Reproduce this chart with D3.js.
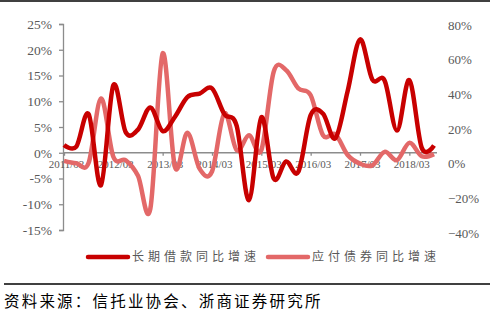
<!DOCTYPE html>
<html>
<head>
<meta charset="utf-8">
<script src="https://cdn.jsdelivr.net/npm/d3@7"></script>
<style>
  body { margin: 0; background: #fff; }
  svg { display: block; }
  .axis text { font-family: "Liberation Serif", "Times New Roman", serif; fill: #595959; }
  .legend text { font-family: "Noto Sans CJK SC", sans-serif; fill: #595959; }
</style>
</head>
<body>
<div id="chart"></div>
<script>
// quarterly data, 2011/03 - 2018/09
var quarters = [];
for (var y = 2011; y <= 2018; y++) {
    ['03', '06', '09', '12'].forEach(function (m) {
        if (y === 2018 && m === '12') return;
        quarters.push(y + '/' + m);
    });
}
var tickLabels = ['2011/03', '2012/03', '2013/03', '2014/03', '2015/03', '2016/03', '2017/03', '2018/03'];

// 长期借款同比增速 (left axis, %)
var loanGrowth = [1.5, 1.2, 7.5, -6.3, 13.1, 4.0, 4.5, 8.8,
                  4.2, 7.0, 10.8, 11.5, 12.5, 7.5, 5.2, -9.2,
                  6.9, -5.0, -1.7, -3.7, 7.3, 7.6, 2.8, 12.0,
                  22.0, 14.2, 14.0, 4.3, 14.1, 1.0, 1.4];
// 应付债券同比增速 (right axis, %)
var bondGrowth = [1.6, 0.2, 0.5, 37.6, 4.0, 2.0, -7.0, -26.0,
                  63.6, -2.0, 17.8, -3.0, -4.5, 29.0, 7.8, 16.4,
                  7.8, 53.0, 54.0, 43.4, 39.5, 16.4, 17.0, 5.0,
                  0.0, -1.0, 6.8, 2.0, 12.0, 4.3, 5.5];

var leftTicks = [-15, -10, -5, 0, 5, 10, 15, 20, 25];
var rightTicks = [-40, -20, 0, 20, 40, 60, 80];

var seriesNames = ['长期借款同比增速', '应付债券同比增速'];
var colors = ['#C80000', '#E36868'];
var source = '资料来源：信托业协会、浙商证券研究所';

var width = 490, height = 315;

var svg = d3.select('#chart').append('svg')
    .attr('width', width)
    .attr('height', height);

var x = d3.scalePoint().domain(quarters).range([64, 434]);
var yLeft = d3.scaleLinear().domain([-15, 25]).range([230, 24]);
var yRight = d3.scaleLinear().domain([-40, 80]).range([233, 25]);

// top rule
svg.append('line')
    .attr('x1', 0).attr('x2', width)
    .attr('y1', 1).attr('y2', 1)
    .attr('stroke', '#000').attr('stroke-width', 1.5);

// left axis
var gLeft = svg.append('g')
    .attr('class', 'axis')
    .attr('transform', 'translate(63,0)')
    .call(d3.axisLeft(yLeft).tickValues(leftTicks).tickSize(4).tickSizeOuter(4)
        .tickPadding(7)
        .tickFormat(function (d) { return d + '%'; }));
gLeft.selectAll('text').style('font-size', '13.5px');
gLeft.selectAll('path, line').attr('stroke', '#8c8c8c').attr('stroke-width', 1.3);

// right axis: labels only
var gRight = svg.append('g')
    .attr('class', 'axis')
    .attr('transform', 'translate(448,0)');
gRight.selectAll('text').data(rightTicks).enter().append('text')
    .attr('x', 0)
    .attr('y', function (d) { return yRight(d); })
    .attr('dy', '0.35em')
    .style('font-size', '13px')
    .text(function (d) { return (d < 0 ? '\u2212' + (-d) : d) + '%'; });

// x axis on left zero
var gX = svg.append('g')
    .attr('class', 'axis')
    .attr('transform', 'translate(0,' + yLeft(0) + ')')
    .call(d3.axisBottom(x).tickValues(tickLabels).tickSize(3).tickSizeOuter(0).tickPadding(4));
gX.select('.domain').remove();
gX.insert('line', ':first-child')
    .attr('x1', 63).attr('x2', 437)
    .attr('stroke', '#8c8c8c').attr('stroke-width', 1.3);
gX.selectAll('line').attr('stroke', '#8c8c8c').attr('stroke-width', 1.3);
gX.selectAll('text').style('font-size', '11px').attr('dx', 2);

// lines
var lineLeft = d3.line()
    .x(function (d, i) { return x(quarters[i]); })
    .y(function (d) { return yLeft(d); })
    .curve(d3.curveCatmullRom.alpha(0));
var lineRight = d3.line()
    .x(function (d, i) { return x(quarters[i]); })
    .y(function (d) { return yRight(d); })
    .curve(d3.curveCatmullRom.alpha(0));

svg.append('path')
    .datum(bondGrowth)
    .attr('d', lineRight)
    .attr('fill', 'none')
    .attr('stroke', colors[1])
    .attr('stroke-width', 4.5)
    .attr('stroke-linejoin', 'round');

svg.append('path')
    .datum(loanGrowth)
    .attr('d', lineLeft)
    .attr('fill', 'none')
    .attr('stroke', colors[0])
    .attr('stroke-width', 4.5)
    .attr('stroke-linejoin', 'round');

// legend
var legend = svg.append('g').attr('class', 'legend');
var legendX = [88, 268];
seriesNames.forEach(function (name, i) {
    legend.append('line')
        .attr('x1', legendX[i]).attr('x2', legendX[i] + 40)
        .attr('y1', 257).attr('y2', 257)
        .attr('stroke', colors[i])
        .attr('stroke-width', 4.5)
        .attr('stroke-linecap', 'round');
    legend.append('text')
        .attr('x', legendX[i] + 44)
        .attr('y', 257)
        .attr('dy', '0.36em')
        .style('font-size', '12px')
        .style('letter-spacing', '4px')
        .text(name);
});

// bottom rule + source
svg.append('line')
    .attr('x1', 4).attr('x2', width)
    .attr('y1', 284).attr('y2', 284)
    .attr('stroke', '#000').attr('stroke-width', 1.5);

svg.append('text')
    .attr('x', 4)
    .attr('y', 307)
    .style('font-family', '"Noto Sans CJK SC", sans-serif')
    .style('font-size', '15.5px')
    .style('letter-spacing', '2.2px')
    .attr('fill', '#000')
    .text(source);
</script>
</body>
</html>
